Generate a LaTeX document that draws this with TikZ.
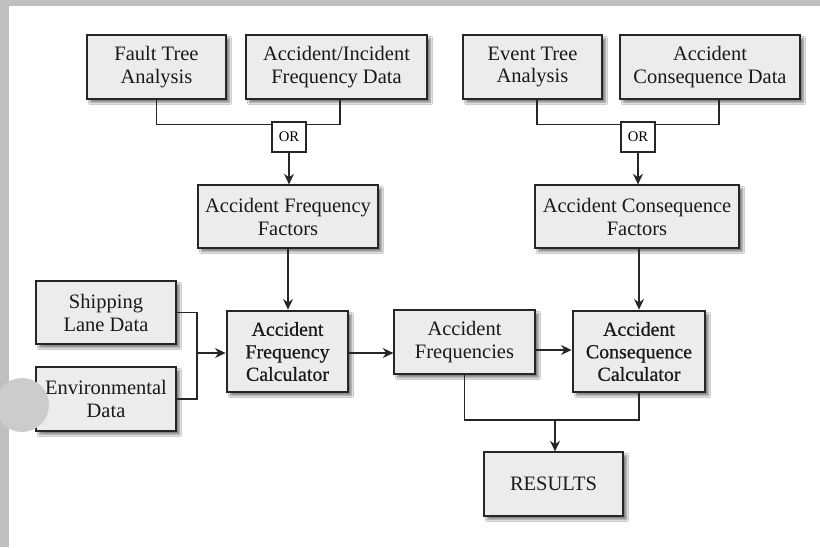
\documentclass[tikz,border=0pt]{standalone}
\usepackage{fontspec}
\setmainfont{Liberation Serif}
\newfontfamily\calcfont[FakeBold=0.6]{Liberation Serif}
\usepackage{xcolor}
\usepackage{tikz}
\usetikzlibrary{positioning}
\usetikzlibrary{shapes,arrows,calc,arrows.meta,shadows.blur}

\definecolor{boxgray}{RGB}{236,236,236}
\definecolor{framegray}{RGB}{192,192,192}

\tikzset{
  boxsize/.style 2 args={minimum width=#1*0.03cm, minimum height=#2*0.03cm},
  block/.style={draw=black!85, line width=1.1pt, fill=boxgray, align=center,
    inner sep=0pt, text=black!90, font=\fontsize{17.5}{19.6}\selectfont,
    blur shadow={shadow xshift=3pt, shadow yshift=-3pt, shadow blur steps=6, shadow opacity=50}},
  calcblock/.style={block, line width=2.4pt, font=\calcfont\fontsize{17}{19.2}\selectfont},
  orbox/.style={draw=black!85, line width=0.9pt, fill=white, inner sep=0pt,
    font=\fontsize{12.5}{14}\selectfont, boxsize={34}{30}},
  link/.style={line width=1.2pt, draw=black!85},
  arrow/.style={link, -{Stealth[length=9pt, width=8.5pt]}}
}

\begin{document}
\begin{tikzpicture}[x=0.03cm, y=-0.03cm]
  % Page frame
  \useasboundingbox (0,0) rectangle (820,547);
  \fill[white] (0,0) rectangle (820,547);
  \fill[framegray] (0,0) rectangle (820,6);
  \fill[framegray] (0,0) rectangle (9,547);

  % Top row of inputs
  \node[block, boxsize={139}{64}] (fta) at (156.5,67) {Fault Tree\\Analysis};
  \node[block, boxsize={181}{64}] (aifd) at (336.5,67) {Accident/Incident\\Frequency Data};
  \node[block, boxsize={139}{64}] (eta) at (532.5,67) {Event Tree\\Analysis};
  \node[block, boxsize={180}{64}] (acd) at (710,67) {Accident\\Consequence Data};

  % OR boxes
  \node[orbox] (or1) at (289,137) {OR};
  \node[orbox] (or2) at (638,137) {OR};

  % Factors
  \node[block, boxsize={180}{63}] (aff) at (288,216.5) {Accident Frequency\\Factors};
  \node[block, boxsize={204}{63}] (acf) at (637,216.5) {Accident Consequence\\Factors};

  % Data on the left
  \node[block, boxsize={140}{63}] (sld) at (106,312.5) {Shipping\\Lane Data};
  \node[block, boxsize={140}{64}] (envd) at (106,399) {Environmental\\Data};
  \fill[black!20] (22,405) circle (27);

  % Calculators and results
  \node[calcblock, boxsize={121}{81}] (afc) at (287.5,351.5) {Accident\\Frequency\\Calculator};
  \node[block, boxsize={141}{64}] (afr) at (464.5,342) {Accident\\Frequencies};
  \node[calcblock, boxsize={132}{81}] (acc) at (639,351.5) {Accident\\Consequence\\Calculator};
  \node[block, boxsize={139}{64}] (res) at (553.5,484) {RESULTS};

  % Join points
  \coordinate (jl) at (197,353);
  \coordinate (jr) at (555,420);

  % Left OR branch
  \draw[link] (fta.south) |- ($(or1.north west)+(0,3)$);
  \draw[link] ($(aifd.south)+(3.5,0)$) |- ($(or1.north east)+(0,3)$);
  \draw[arrow] (or1.south) -- (or1.south |- aff.north);
  \draw[arrow] (aff.south) -- (aff.south |- afc.north);

  % Right OR branch
  \draw[link] ($(eta.south)+(4.5,0)$) |- ($(or2.north west)+(0,3)$);
  \draw[link] ($(acd.south)+(9,0)$) |- ($(or2.north east)+(0,3)$);
  \draw[arrow] (or2.south) -- (or2.south |- acf.north);
  \draw[arrow] (acc.north |- acf.south) -- (acc.north);

  % Data into the frequency calculator
  \draw[link] (sld.east) -| (jl);
  \draw[link] (envd.east) -| (jl);
  \draw[arrow] (jl) -- (jl -| afc.west);

  % Along the middle row
  \draw[arrow] (afc.east |- jl) -- (afr.west |- jl);
  \draw[arrow] (afr.east |- 0,350) -- (acc.west |- 0,350);

  % Down to the results
  \draw[link] (afr.south) |- (jr);
  \draw[link] (acc.south) |- (jr);
  \draw[arrow] (jr) -- (jr |- res.north);
\end{tikzpicture}
\end{document}
